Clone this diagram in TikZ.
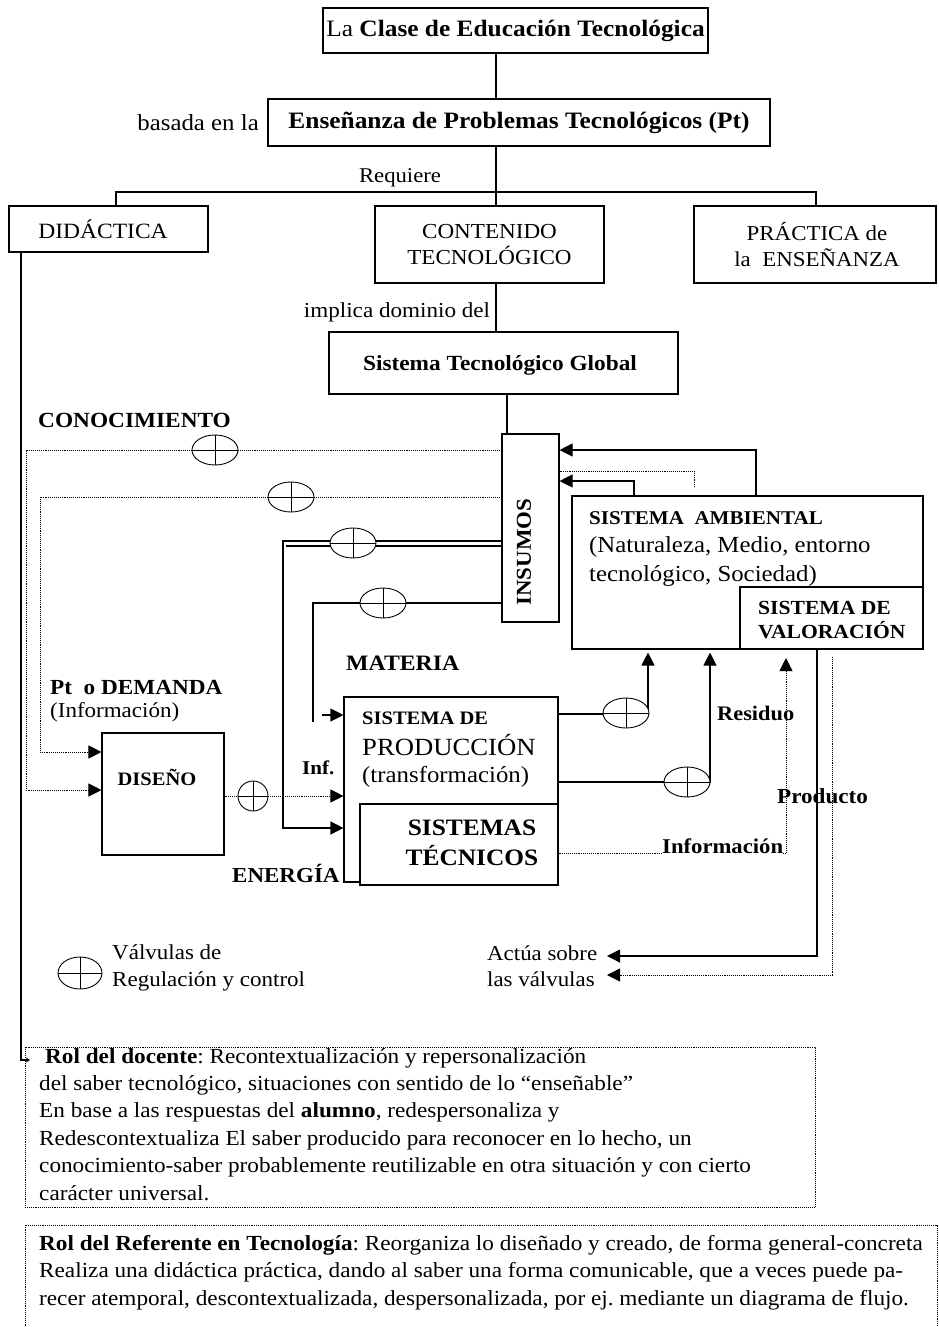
\documentclass[tikz,border=0pt]{standalone}
\usepackage{fontspec}
\setmainfont{Liberation Serif}[FakeStretch=1.08]
\usetikzlibrary{arrows.meta,shapes.geometric,fit,calc}
\newcommand\fsz[2]{\fontsize{#1}{#2}\selectfont}
\frenchspacing

\begin{document}
\begin{tikzpicture}[x=1pt,y=-1pt,
  box/.style={draw, line width=1.1pt, fill=white, inner sep=0pt},
  dotbox/.style={draw, densely dotted, line width=0.9pt, inner sep=0pt},
  ln/.style={line width=1.1pt},
  dln/.style={densely dotted, line width=0.9pt},
  tip/.style={-{Triangle[length=13pt,width=13pt]}},
  valve/.style={draw, ellipse, line width=0.9pt, fill=white,
    minimum width=46pt, minimum height=30pt, inner sep=0pt,
    path picture={\draw[line width=1pt]
      (path picture bounding box.north) -- (path picture bounding box.south)
      (path picture bounding box.west) -- (path picture bounding box.east);}},
  lbl/.style={inner sep=0pt},
]
\useasboundingbox (0,0) rectangle (939,1327);
\fill[white] (0,0) rectangle (939,1327);

% ---------- boxes ----------
\node[box, fit={(323,8)(708,53)}] (title) {};
\node[box, fit={(268,99)(770,146)}] (ensen) {};
\node[box, fit={(9,206)(208,252)}] (didactica) {};
\node[box, fit={(375,206)(604,283)}] (contenido) {};
\node[box, fit={(694,206)(936,283)}] (practica) {};
\node[box, fit={(329,332)(678,394)}] (stg) {};
\node[box, fit={(502,434)(559,622)}] (insumos) {};
\node[box, fit={(572,496)(923,649)}] (ambiental) {};
\node[box, fit={(740,587)(923,649)}] (valoracion) {};
\node[box, fit={(344,697)(558,882)}] (produccion) {};
\node[box, fit={(360,804)(558,885)}] (tecnicos) {};
\node[box, fit={(102,733)(224,855)}] (diseno) {};
\node[dotbox, fit={(25,1047)(815,1207)}] (docente) {};
\node[dotbox, fit={(25,1225)(937,1345)}] (referente) {};

% ---------- helper coordinates ----------
\coordinate (sp) at (496,0);
\coordinate (xL) at (116,192);
\coordinate (xR) at (816,192);
\coordinate (gx) at (507,0);
\coordinate (dd) at (21,1060);
\coordinate (c1) at (26,450);   \coordinate (c1d) at (0,790);
\coordinate (c2) at (40,497);   \coordinate (c2d) at (0,752);
\coordinate (m1) at (283,541);  \coordinate (m1d) at (0,828);
\coordinate (m1c) at (286,546);
\coordinate (m2) at (313,603);  \coordinate (m2b) at (313,722);
\coordinate (m2a) at (322,715);
\coordinate (i1) at (0,796);
\coordinate (a1) at (756,450);
\coordinate (a2) at (634,481);
\coordinate (a3) at (694,471);  \coordinate (a3b) at (694,487);
\coordinate (o1) at (648,714);
\coordinate (o2) at (710,782);
\coordinate (o3) at (786,853);  \coordinate (o3t) at (786,658);
\coordinate (v1) at (817,956);  \coordinate (v1t) at (607,956);
\coordinate (v2a) at (832,657); \coordinate (v2) at (832,975); \coordinate (v2t) at (607,975);

% ---------- hierarchy ----------
\draw[ln] (title.south -| sp) -- (ensen.north -| sp);
\draw[ln] (ensen.south -| sp) -- (contenido.north -| sp);
\draw[ln] (didactica.north -| xL) -- (xL) -- (xR) -- (practica.north -| xR);
\draw[ln] (contenido.south -| sp) -- (stg.north -| sp);
\draw[ln] (stg.south -| gx) -- (insumos.north -| gx);
\draw[ln, -{Stealth[length=4pt,width=5pt]}] (didactica.south -| dd) -- (dd) -- ++(9,0);

% ---------- feedback from INSUMOS ----------
\draw[dln, tip] (insumos.west |- c1) -- (c1) |- (diseno.west |- c1d);
\draw[dln, tip] (insumos.west |- c2) -- (c2) |- (diseno.west |- c2d);
\draw[ln, tip] (insumos.west |- m1) -- (m1) |- (produccion.west |- m1d);
\draw[ln] (m1c) -- (insumos.west |- m1c);
\draw[ln] (insumos.west |- m2) -- (m2) -- (m2b);
\draw[ln, tip] (m2a) -- (produccion.west |- m2a);
\draw[dln, tip] (diseno.east |- i1) -- (produccion.west |- i1);

% ---------- returns to INSUMOS ----------
\draw[ln, tip] (ambiental.north -| a1) -- (a1) -- (insumos.east |- a1);
\draw[ln, tip] (ambiental.north -| a2) -- (a2) -- (insumos.east |- a2);
\draw[dln] (a3b) -- (a3) -- (insumos.east |- a3);

% ---------- outputs of production ----------
\draw[ln, tip, shorten >=3pt] (produccion.east |- o1) -- (o1) -- (ambiental.south -| o1);
\draw[ln, tip, shorten >=3pt] (produccion.east |- o2) -- (o2) -- (ambiental.south -| o2);
\draw[dln, tip] (tecnicos.east |- o3) -- (o3) -- (o3t);
\draw[ln, tip] (valoracion.south -| v1) -- (v1) -- (v1t);
\draw[dln, tip] (v2a) -- (v2) -- (v2t);

% ---------- valves ----------
\node[valve] (va) at (215,450) {};
\node[valve] (vb) at (291,497) {};
\node[valve] (vc) at (353,543) {};
\node[valve] (vd) at (383,603) {};
\node[valve, minimum width=30pt, minimum height=30pt] (ve) at (253,796) {};
\node[valve] (vf) at (626,713) {};
\node[valve] (vg) at (687,782) {};
\node[valve, minimum width=44pt, minimum height=32pt] (legv) at (80,973) {};

% ---------- texts of the upper boxes ----------
\node[lbl, font=\fsz{23.5}{28}] (titletxt) at (title.center) {La \textbf{Clase de Educación Tecnológica}};
\node[lbl, font=\bfseries\fsz{23.5}{28}] (ensentxt) at (ensen.center) {Enseñanza de Problemas Tecnológicos (Pt)};
\node[lbl, font=\fsz{21.8}{26}] (didtxt) at (103,229) {DIDÁCTICA};
\node[lbl, align=center, font=\fsz{21.4}{26}] (contxt) at (contenido.center) {CONTENIDO\\TECNOLÓGICO};
\node[lbl, align=center, font=\fsz{21.2}{26}] (practxt) at (817,244.5) {PRÁCTICA de\\la~~ENSEÑANZA};
\node[lbl, font=\bfseries\fsz{21.6}{26}] (stgtxt) at (500,365) {Sistema Tecnológico Global};

% ---------- texts inside the system boxes ----------
\node[lbl, rotate=90, font=\bfseries\fsz{21.2}{24}] (instxt) at (524,552) {INSUMOS};
\node[lbl, anchor=west, font=\bfseries\fsz{19.5}{22}] (amb1) at (589,518) {SISTEMA~~AMBIENTAL};
\node[lbl, anchor=west, font=\fsz{23}{26}] (amb2) at (589,547) {(Naturaleza, Medio, entorno};
\node[lbl, anchor=west, font=\fsz{23}{26}] (amb3) at (589,576) {tecnológico, Sociedad)};
\node[lbl, anchor=west, align=left, font=\bfseries\fsz{20}{24}] (valtxt) at (758,620) {SISTEMA DE\\VALORACIÓN};
\node[lbl, anchor=west, font=\bfseries\fsz{19}{22}] (pr1) at (362,718) {SISTEMA DE};
\node[lbl, anchor=west, font=\fsz{24.7}{28}] (pr2) at (362,745) {PRODUCCIÓN};
\node[lbl, anchor=west, font=\fsz{23}{26}] (pr3) at (362,777) {(transformación)};
\node[lbl, align=center, font=\bfseries\fsz{23.5}{30}] (tectxt) at (472,843) {SISTEMAS\\TÉCNICOS};
\node[lbl, font=\bfseries\fsz{19}{22}] (distxt) at (157,777) {DISEÑO};

% ---------- free labels ----------
\node[lbl, anchor=east, font=\fsz{23}{26}] (basada) at (259,123) {basada en la};
\node[lbl, font=\fsz{21}{26}] (requiere) at (400,178) {Requiere};
\node[lbl, font=\fsz{21.4}{26}] (implica) at (397,312) {implica dominio del};
\node[lbl, anchor=west, font=\bfseries\fsz{21.6}{26}] (conoc) at (38,420) {CONOCIMIENTO};
\node[lbl, anchor=west, font=\bfseries\fsz{22}{24}] (materia) at (346,663) {MATERIA};
\node[lbl, anchor=west, font=\bfseries\fsz{21.5}{24}] (ptdem) at (50,687) {Pt~~o DEMANDA};
\node[lbl, anchor=west, font=\fsz{21.3}{26}] (ptinfo) at (50,712) {(Información)};
\node[lbl, anchor=west, font=\bfseries\fsz{19.5}{24}] (inf) at (302,768) {Inf.};
\node[lbl, anchor=west, font=\bfseries\fsz{21.3}{24}] (energia) at (232,873) {ENERGÍA};
\node[lbl, anchor=west, font=\bfseries\fsz{20.7}{24}] (residuo) at (717,713) {Residuo};
\node[lbl, anchor=west, font=\bfseries\fsz{21.4}{24}] (producto) at (777,796) {Producto};
\node[lbl, anchor=west, fill=white, font=\bfseries\fsz{21}{24}] (informacion) at (662,846) {Información};
\node[lbl, anchor=west, align=left, font=\fsz{21.2}{26}] (actua) at (487,966) {Actúa sobre\\las válvulas};
\node[lbl, anchor=west, align=left, font=\fsz{21.3}{27}] (legtxt) at (112,968) {Válvulas de\\Regulación y control};

% ---------- role texts ----------
\node[lbl, anchor=north west, align=left, font=\fsz{21.5}{27.4}] (doctxt) at (39,1048)
  {\hspace*{6pt}\textbf{Rol del docente}: Recontextualización y repersonalización\\
   del saber tecnológico, situaciones con sentido de lo “enseñable”\\
   En base a las respuestas del \textbf{alumno}, redespersonaliza y\\
   Redescontextualiza El saber producido para reconocer en lo hecho, un\\
   conocimiento-saber probablemente reutilizable en otra situación y con cierto\\
   carácter universal.};
\node[lbl, anchor=north west, align=left, font=\fsz{21.5}{27.4}] (reftxt) at (39,1235)
  {\textbf{Rol del Referente en Tecnología}: Reorganiza lo diseñado y creado, de forma general-concreta\\
   Realiza una didáctica práctica, dando al saber una forma comunicable, que a veces puede pa-\\
   recer atemporal, descontextualizada, despersonalizada, por ej. mediante un diagrama de flujo.};
\end{tikzpicture}
\end{document}
